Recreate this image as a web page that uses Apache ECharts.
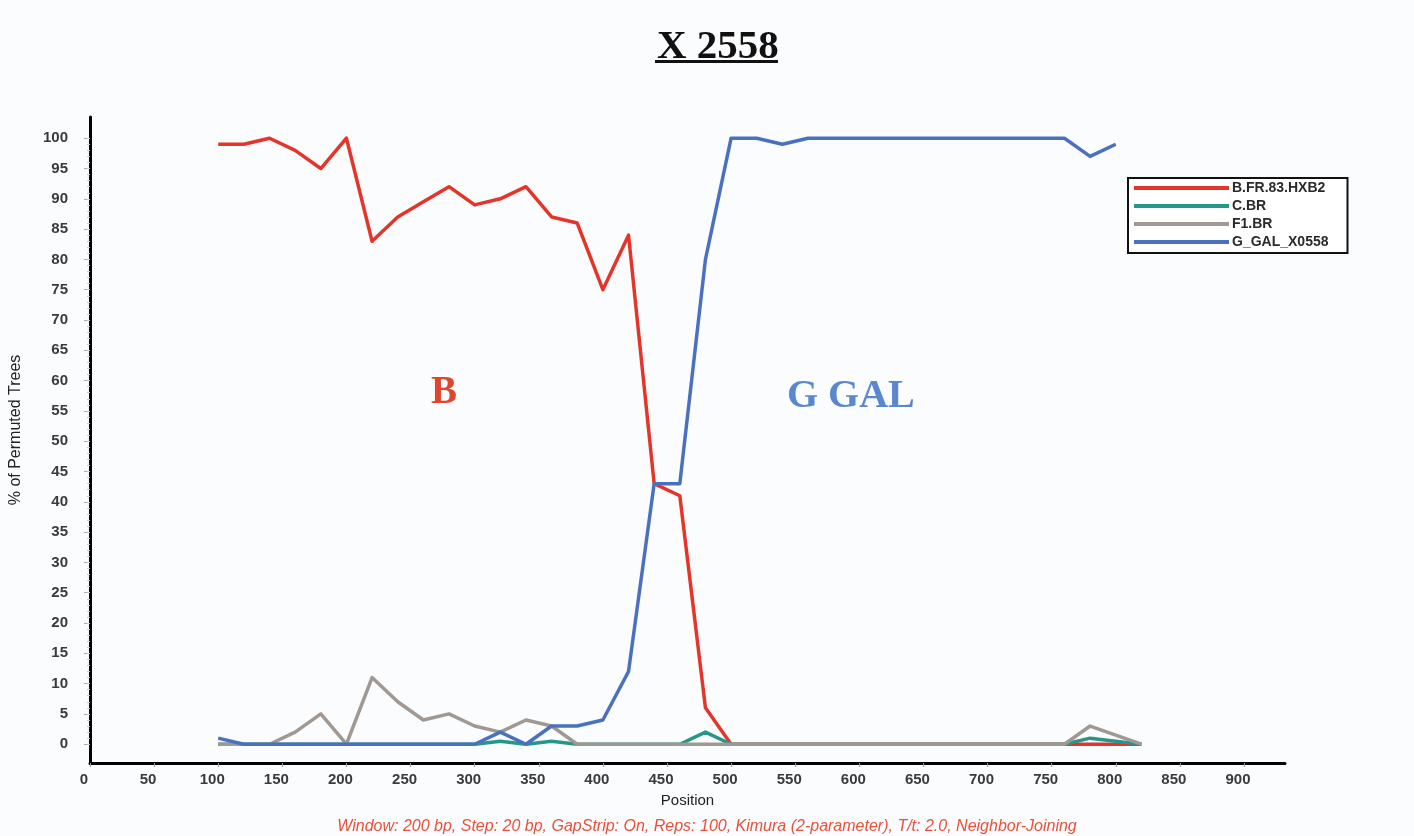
<!DOCTYPE html>
<html>
<head>
<meta charset="utf-8">
<title>X 2558</title>
<script src="https://cdn.jsdelivr.net/npm/echarts@6/dist/echarts.min.js"></script>
<style>
  html, body { margin: 0; padding: 0; background: #fbfcfd; }
  #chart { width: 1414px; height: 836px; }
</style>
</head>
<body>
<div id="chart"></div>
<script>
// Bootscan positions (window centre, bp)
var positions = [100, 120, 140, 160, 180, 200, 220, 240, 260, 280, 300, 320, 340, 360, 380, 400, 420, 440, 460,
                 480, 500, 520, 540, 560, 580, 600, 620, 640, 660, 680, 700, 720, 740, 760, 780, 800, 820];

// % of permuted trees supporting each reference
var hxb2 = [99, 99, 100, 98, 95, 100, 83, 87, 89.5, 92, 89, 90, 92, 87, 86, 75, 84, 43, 41,
            6, 0, 0, 0, 0, 0, 0, 0, 0, 0, 0, 0, 0, 0, 0, 0, 0, 0];
var cbr  = [0, 0, 0, 0, 0, 0, 0, 0, 0, 0, 0, 0.5, 0, 0.5, 0, 0, 0, 0, 0,
            2, 0, 0, 0, 0, 0, 0, 0, 0, 0, 0, 0, 0, 0, 0, 1, 0.5, 0];
var f1br = [0, 0, 0, 2, 5, 0, 11, 7, 4, 5, 3, 2, 4, 3, 0, 0, 0, 0, 0,
            0, 0, 0, 0, 0, 0, 0, 0, 0, 0, 0, 0, 0, 0, 0, 3, 1.5, 0];
var ggal = [1, 0, 0, 0, 0, 0, 0, 0, 0, 0, 0, 2, 0, 3, 3, 4, 12, 43, 43,
            80, 100, 100, 99, 100, 100, 100, 100, 100, 100, 100, 100, 100, 100, 100, 97, 99];

var seriesNames = ['B.FR.83.HXB2', 'C.BR', 'F1.BR', 'G_GAL_X0558'];
var seriesColors = ['#e5352b', '#27968a', '#a09893', '#4a70c0'];

var xTicks = [0, 50, 100, 150, 200, 250, 300, 350, 400, 450, 500, 550, 600, 650, 700, 750, 800, 850, 900];
var yTicks = [0, 5, 10, 15, 20, 25, 30, 35, 40, 45, 50, 55, 60, 65, 70, 75, 80, 85, 90, 95, 100];
var yMinorTicks = [];
for (var t = 0; t <= 100; t++) yMinorTicks.push(t);

function pairs(values) {
  var out = [];
  for (var i = 0; i < values.length; i++) out.push([positions[i], values[i]]);
  return out;
}

var sans = 'Liberation Sans, Arial, sans-serif';
var serif = 'Liberation Serif, Times New Roman, serif';

var chart = echarts.init(document.getElementById('chart'));
chart.setOption({
  backgroundColor: '#fbfcfd',
  animation: false,
  title: [
    {
      text: 'X 2558', left: 652, top: 22,
      textStyle: { fontFamily: serif, fontSize: 41, fontWeight: 'bold', color: '#111' }
    },
    {
      text: 'Window: 200 bp, Step: 20 bp, GapStrip: On, Reps: 100, Kimura (2-parameter), T/t: 2.0, Neighbor-Joining',
      left: 'center', top: 814,
      textStyle: { fontFamily: sans, fontSize: 16, fontStyle: 'italic', fontWeight: 'normal', color: '#e8503a' }
    }
  ],
  graphic: [
    { type: 'rect', shape: { x: 655, y: 60, width: 123, height: 3 }, style: { fill: '#111' } },
    {
      type: 'text', left: 431, top: 373,
      style: { text: 'B', fontFamily: serif, fontSize: 39, fontWeight: 'bold', fill: '#e0452d' }
    },
    {
      type: 'text', left: 787, top: 377,
      style: { text: 'G GAL', fontFamily: serif, fontSize: 40, fontWeight: 'bold', fill: '#5a88cf' }
    }
  ],
  legend: {
    orient: 'vertical', left: 1128, top: 178,
    data: seriesNames,
    icon: 'rect', itemWidth: 95, itemHeight: 4, itemGap: 4,
    padding: [3, 19, 4, 6],
    borderColor: '#111', borderWidth: 2, backgroundColor: '#fff',
    textStyle: { fontFamily: sans, fontSize: 14, fontWeight: 'bold', color: '#2a2a2a', padding: [0, 0, 0, -2] }
  },
  grid: { left: 90, right: 129, top: 117, bottom: 73, containLabel: false },
  xAxis: {
    type: 'value', min: 0, max: 932,
    name: 'Position', nameLocation: 'middle', nameGap: 30,
    nameTextStyle: { fontFamily: sans, fontSize: 15, color: '#222' },
    axisLine: { show: true, onZero: false, lineStyle: { color: '#000', width: 3 } },
    axisTick: { show: true, customValues: xTicks, length: 4, lineStyle: { color: '#999' } },
    axisLabel: {
      customValues: xTicks, margin: 9, padding: [0, 12, 0, 0],
      fontFamily: sans, fontSize: 15, fontWeight: 'bold', color: '#3a3a3a'
    },
    splitLine: { show: false }
  },
  yAxis: [
    {
      type: 'value', min: -3.1, max: 103.5,
      name: '% of Permuted Trees', nameLocation: 'middle', nameGap: 66,
      nameTextStyle: { fontFamily: sans, fontSize: 16, color: '#222', padding: [0, 0, 0, 20] },
      axisLine: { show: true, onZero: false, lineStyle: { color: '#000', width: 3 } },
      axisTick: { show: true, customValues: yTicks, length: 6, lineStyle: { color: '#aaa' } },
      axisLabel: { customValues: yTicks, margin: 22, fontFamily: sans, fontSize: 15, fontWeight: 'bold', color: '#3a3a3a' },
      splitLine: { show: false }
    },
    {
      type: 'value', min: -3.1, max: 103.5, position: 'left',
      axisLine: { show: false },
      axisTick: { show: true, customValues: yMinorTicks, length: 3, lineStyle: { color: '#c8c8c8' } },
      axisLabel: { show: false },
      splitLine: { show: false }
    }
  ],
  series: [
    { name: seriesNames[0], type: 'line', data: pairs(hxb2), color: seriesColors[0] },
    { name: seriesNames[1], type: 'line', data: pairs(cbr), color: seriesColors[1] },
    { name: seriesNames[2], type: 'line', data: pairs(f1br), color: seriesColors[2] },
    { name: seriesNames[3], type: 'line', data: pairs(ggal), color: seriesColors[3] }
  ].map(function (s) {
    s.showSymbol = false;
    s.symbol = 'none';
    s.lineStyle = { width: 3.5, color: s.color, join: 'round' };
    s.itemStyle = { color: s.color };
    return s;
  })
});
</script>
</body>
</html>
